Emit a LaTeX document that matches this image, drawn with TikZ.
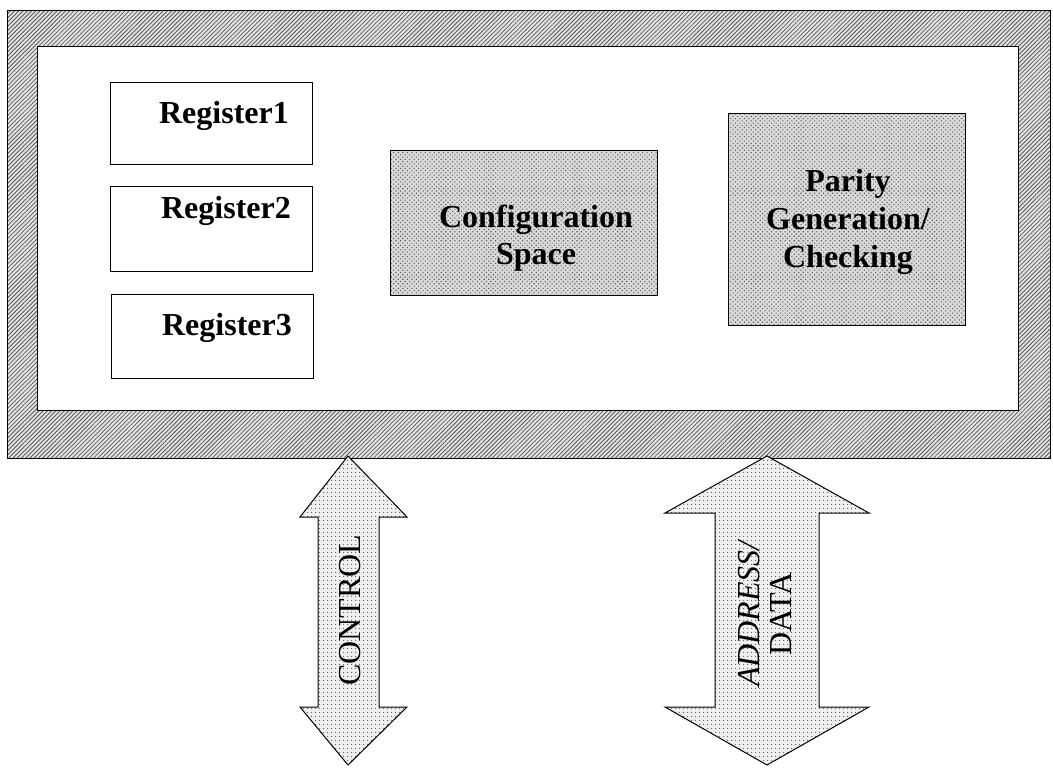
\documentclass[tikz,border=0pt]{standalone}
\usepackage{fontspec}
\setmainfont{Liberation Serif}
\usetikzlibrary{patterns.meta}
\begin{document}
\begin{tikzpicture}[x=1pt,y=-1pt,
  hatchfill/.style={preaction={fill=gray!22},pattern={Lines[angle=45,distance=3pt,line width=0.8pt]},pattern color=gray!70!black},
  crossfill/.style={preaction={fill=gray!30},pattern={Dots[distance=3.2pt,radius=0.75pt,angle=45]},pattern color=gray!70!black},
  dotfill/.style={preaction={fill=gray!12},pattern={Dots[distance=4pt,radius=0.8pt]},pattern color=gray!70!black},
  regbox/.style={draw,line width=1pt,fill=white,minimum width=202pt,inner sep=0pt,anchor=north west},
  lbl/.style={font=\fontsize{32}{37}\selectfont\bfseries,align=center,inner sep=0pt},
  arrowtxt/.style={font=\fontsize{32}{32}\selectfont,rotate=90,align=center,inner sep=0pt}
]
\useasboundingbox (0,0) rectangle (1053,768);
\fill[white] (0,0) rectangle (1053,768);
% outer hatched frame
\node[draw,line width=1pt,hatchfill,minimum width=1043pt,minimum height=448pt,anchor=north west,inner sep=0pt] (outer) at (7,10) {};
\node[draw,line width=1pt,fill=white,minimum width=981pt,minimum height=364pt,anchor=north west,inner sep=0pt] (inner) at (37,46) {};
% registers
\node[regbox,minimum height=82pt] (r1) at (110,82) {};
\node[lbl,anchor=base] (t1) at (224,123) {Register1};
\node[regbox,minimum height=85pt] (r2) at (110,186) {};
\node[lbl,anchor=base] (t2) at (226,218) {Register2};
\node[regbox,minimum height=84pt] (r3) at (111,294) {};
\node[lbl,anchor=base] (t3) at (227,335) {Register3};
% configuration space
\node[draw,line width=1pt,crossfill,anchor=north west,minimum width=267pt,minimum height=145pt,inner sep=0pt] (cfg) at (390,150) {};
\node[lbl] (cfgt) at (536,238) {Configuration\\Space};
% parity
\node[draw,line width=1pt,crossfill,anchor=north west,minimum width=237pt,minimum height=212pt,inner sep=0pt] (par) at (728,113) {};
\node[lbl,font=\fontsize{32}{38}\selectfont\bfseries] (part) at (848,222) {Parity\\Generation/\\Checking};
% CONTROL double arrow
\coordinate (c1) at (348,456);
\draw[line width=1pt,dotfill,line join=miter]
  (c1) -- (407,517) -- (379,517) -- (379,707) -- (407,707) -- (348,765)
  -- (300,707) -- (318,707) -- (318,517) -- (300,517) -- cycle;
\node[arrowtxt] (ctl) at (350,610) {CONTROL};
% ADDRESS/DATA double arrow
\coordinate (a1) at (767,456);
\draw[line width=1pt,dotfill,line join=miter]
  (a1) -- (869,513) -- (819,513) -- (819,707) -- (869,707) -- (767,765)
  -- (665,707) -- (715,707) -- (715,513) -- (665,513) -- cycle;
\node[arrowtxt] (adt) at (765,614) {{\itshape ADDRESS/}\\DATA};
\end{tikzpicture}
\end{document}
